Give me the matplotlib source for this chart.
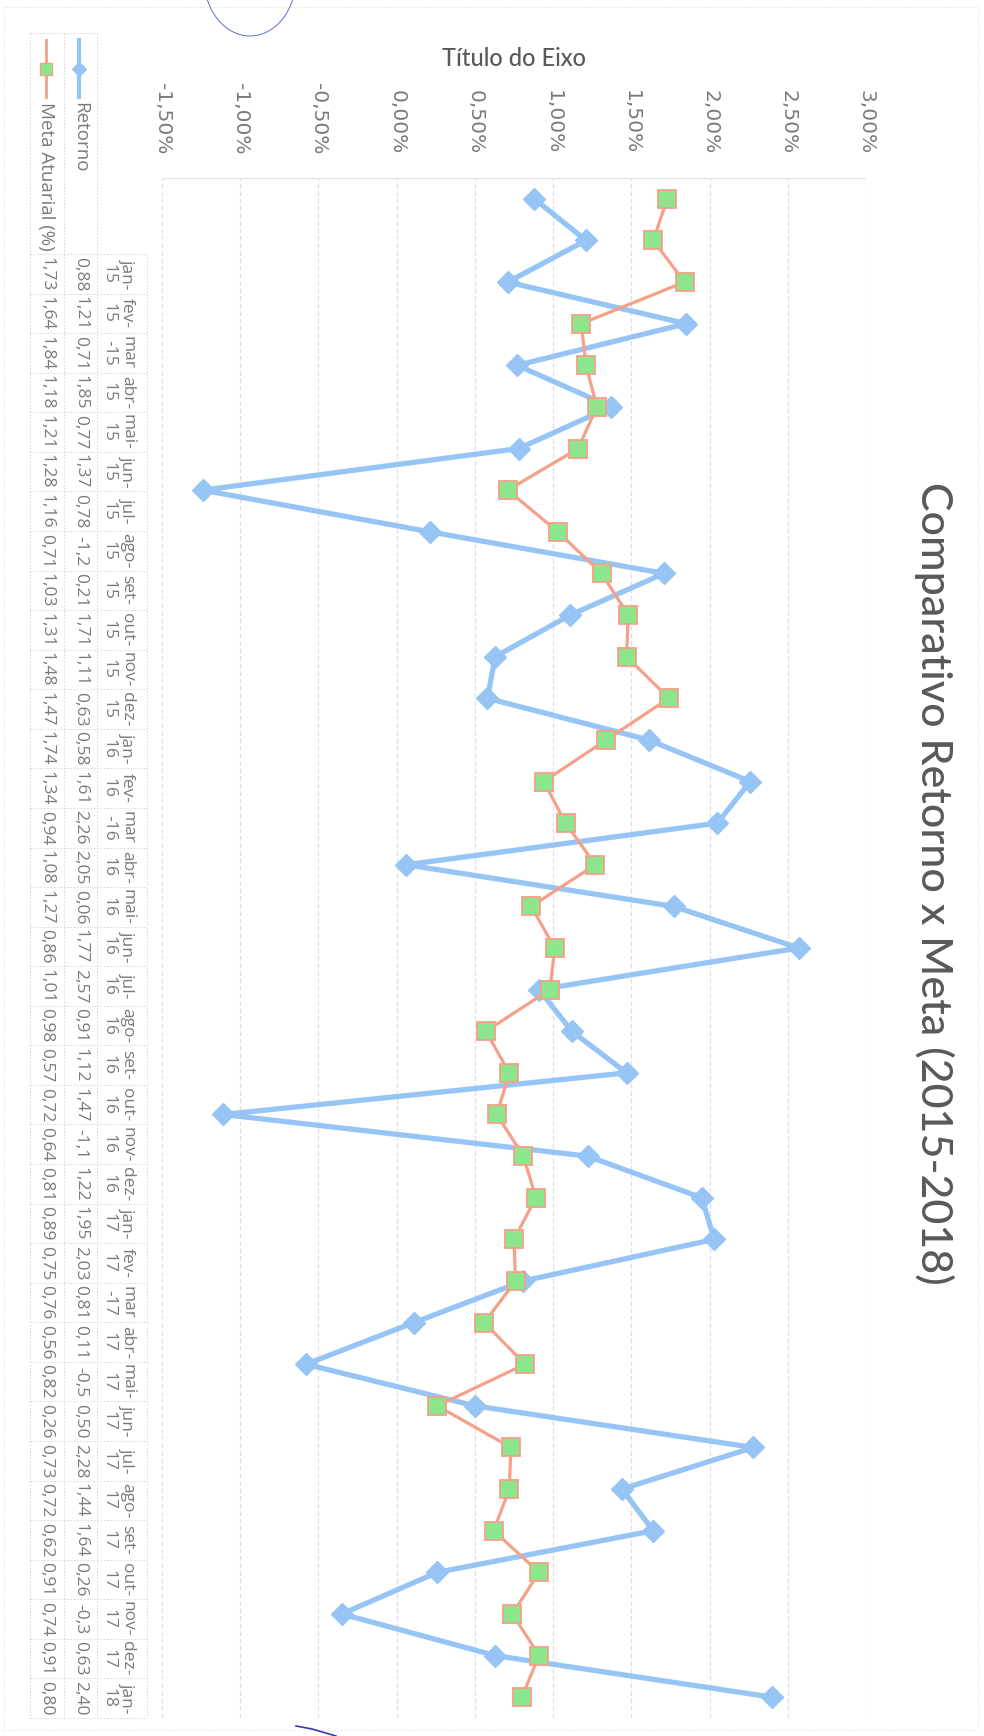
import matplotlib
matplotlib.use("Agg")
import matplotlib.pyplot as plt
from matplotlib.lines import Line2D
from matplotlib.patches import Arc, Rectangle

# dados (valores em %)
categorias = ['jan-15', 'fev-15', 'mar-15', 'abr-15', 'mai-15', 'jun-15', 'jul-15', 'ago-15',
              'set-15', 'out-15', 'nov-15', 'dez-15', 'jan-16', 'fev-16', 'mar-16', 'abr-16',
              'mai-16', 'jun-16', 'jul-16', 'ago-16', 'set-16', 'out-16', 'nov-16', 'dez-16',
              'jan-17', 'fev-17', 'mar-17', 'abr-17', 'mai-17', 'jun-17', 'jul-17', 'ago-17',
              'set-17', 'out-17', 'nov-17', 'dez-17', 'jan-18']
retorno = [0.88, 1.21, 0.71, 1.85, 0.77, 1.37, 0.78, -1.24, 0.21, 1.71, 1.11, 0.63,
           0.58, 1.61, 2.26, 2.05, 0.06, 1.77, 2.57, 0.91, 1.12, 1.47, -1.11, 1.22,
           1.95, 2.03, 0.81, 0.11, -0.58, 0.50, 2.28, 1.44, 1.64, 0.26, -0.35, 0.63,
           2.40]
meta = [1.73, 1.64, 1.84, 1.18, 1.21, 1.28, 1.16, 0.71, 1.03, 1.31, 1.48, 1.47,
        1.74, 1.34, 0.94, 1.08, 1.27, 0.86, 1.01, 0.98, 0.57, 0.72, 0.64, 0.81,
        0.89, 0.75, 0.76, 0.56, 0.82, 0.26, 0.73, 0.72, 0.62, 0.91, 0.74, 0.91,
        0.80]
eixo_ticks = [-1.5, -1.0, -0.5, 0.0, 0.5, 1.0, 1.5, 2.0, 2.5, 3.0]

AZUL = '#96c5f5'
SALMAO = '#f6a089'
VERDE = '#8ee68c'
CINZA = '#7a7a7a'
GRADE = '#e4dcea'
TABELA = '#d2d2d2'

W, H = 984, 1736


def fx(x):
    return x / W


def fy(y):
    return 1 - y / H


def fmt(v):
    # a tabela do excel corta os negativos (ex.: -1,2)
    return f"{v:.2f}".replace('.', ',')[:4]


def cabecalho(c):
    mes, ano = c.split('-')
    if mes == 'mar':
        return f"{mes}\n-{ano}"
    return f"{mes}-\n{ano}"


fig = plt.figure(figsize=(W / 100, H / 100), dpi=100)
fig.patch.set_facecolor('white')

# grafico principal (girado 90 graus)
ax = fig.add_axes([fx(162), fy(1718), fx(866) - fx(162), fy(178) - fy(1718)])
pos = list(range(len(categorias)))
ax.plot(retorno, pos, color=AZUL, lw=3.8, marker='D', ms=11,
        mfc=AZUL, mec=AZUL, zorder=3, solid_joinstyle='round')
ax.plot(meta, pos, color=SALMAO, lw=2.3, marker='s', ms=13,
        mfc=VERDE, mec=SALMAO, mew=1.3, zorder=4)
ax.set_xlim(-1.5, 3.0)
ax.set_ylim(len(categorias) - 0.5, -0.5)
ax.set_xticks(eixo_ticks)
ax.set_xticklabels([f"{t:.2f}%".replace('.', ',') for t in eixo_ticks],
                   fontsize=14.5, color=CINZA, family='DejaVu Sans')
ax.xaxis.tick_top()
ax.tick_params(axis='x', length=0, pad=17, labelrotation=-90)
ax.set_yticks([])
ax.grid(axis='x', color=GRADE, lw=0.9, linestyle=(0, (4, 2)))
for s in ax.spines.values():
    s.set_visible(False)
ax.axhline(-0.5, color=GRADE, lw=0.9)

fig.text(fx(514), fy(58), 'Título do Eixo', ha='center', va='center',
         fontsize=17, color='#595959', family='Lato', fontweight='medium')
fig.text(fx(934), fy(883), 'Comparativo Retorno x Meta (2015-2018)', rotation=-90,
         ha='center', va='center', fontsize=31, color='#595959', family='Lato',
         fontweight='medium')

# tabela de dados
tab = fig.add_axes([fx(30), fy(1718), fx(147) - fx(30), fy(254) - fy(1718)])
tab.set_xlim(30, 147)
tab.set_ylim(len(categorias) - 0.5, -0.5)
tab.axis('off')
fonte_tab = dict(rotation=-90, ha='center', va='center', fontsize=12.5,
                 color=CINZA, family='Open Sans')
for i, c in enumerate(categorias):
    tab.text(118, i, cabecalho(c), multialignment='center', linespacing=1.2, **fonte_tab)
    tab.text(80, i, fmt(retorno[i]), **fonte_tab)
    tab.text(46, i, fmt(meta[i]), **fonte_tab)
for i in range(len(categorias) + 1):
    tab.plot([30, 147], [i - 0.5, i - 0.5], color=TABELA, lw=0.6,
             linestyle=(0, (2, 2)), clip_on=False)
for xl in [30, 64, 97, 147]:
    tab.plot([xl, xl], [-0.5, len(categorias) - 0.5], color=TABELA, lw=0.6,
             linestyle=(0, (2, 2)), clip_on=False)

# legendas da tabela
for xl in [30, 64, 97]:
    fig.add_artist(Line2D([fx(xl), fx(xl)], [fy(33), fy(254)], transform=fig.transFigure,
                          color=TABELA, lw=0.6, linestyle=(0, (2, 2))))
fig.add_artist(Line2D([fx(30), fx(97)], [fy(33), fy(33)], transform=fig.transFigure,
                      color=TABELA, lw=0.6, linestyle=(0, (2, 2))))
fig.add_artist(Line2D([fx(79), fx(79)], [fy(40), fy(97)], transform=fig.transFigure,
                      color=AZUL, lw=3.0))
fig.add_artist(Line2D([fx(79)], [fy(69)], transform=fig.transFigure, marker='D',
                      ms=7, color=AZUL))
fig.add_artist(Line2D([fx(46), fx(46)], [fy(40), fy(97)], transform=fig.transFigure,
                      color=SALMAO, lw=2.0))
fig.add_artist(Line2D([fx(46)], [fy(69)], transform=fig.transFigure, marker='s',
                      ms=8, mfc=VERDE, mec=SALMAO, mew=1.0))
fig.text(fx(80), fy(102), 'Retorno', rotation=-90, ha='center', va='top',
         fontsize=13.5, color=CINZA, family='Open Sans')
fig.text(fx(46), fy(102), 'Meta Atuarial (%)', rotation=-90, ha='center', va='top',
         fontsize=13.5, color=CINZA, family='Open Sans')

# borda do grafico e marcas de caneta do papel escaneado
fig.add_artist(Rectangle((fx(4), fy(1730)), fx(978) - fx(4), fy(7) - fy(1730),
                         transform=fig.transFigure, fill=False, ec='#e2e2e2', lw=0.6,
                         linestyle=(0, (2, 2))))
fig.add_artist(Arc((fx(250), fy(-22)), fx(92), 116 / H, theta1=180, theta2=360,
                   transform=fig.transFigure, color='#5b6fd0', lw=0.7))
fig.add_artist(Line2D([fx(296), fx(312), fx(336)], [fy(1726), fy(1729), fy(1736)],
                      transform=fig.transFigure, color='#3a3aa8', lw=1.2))

fig.savefig('out.png', dpi=100, facecolor='white')
